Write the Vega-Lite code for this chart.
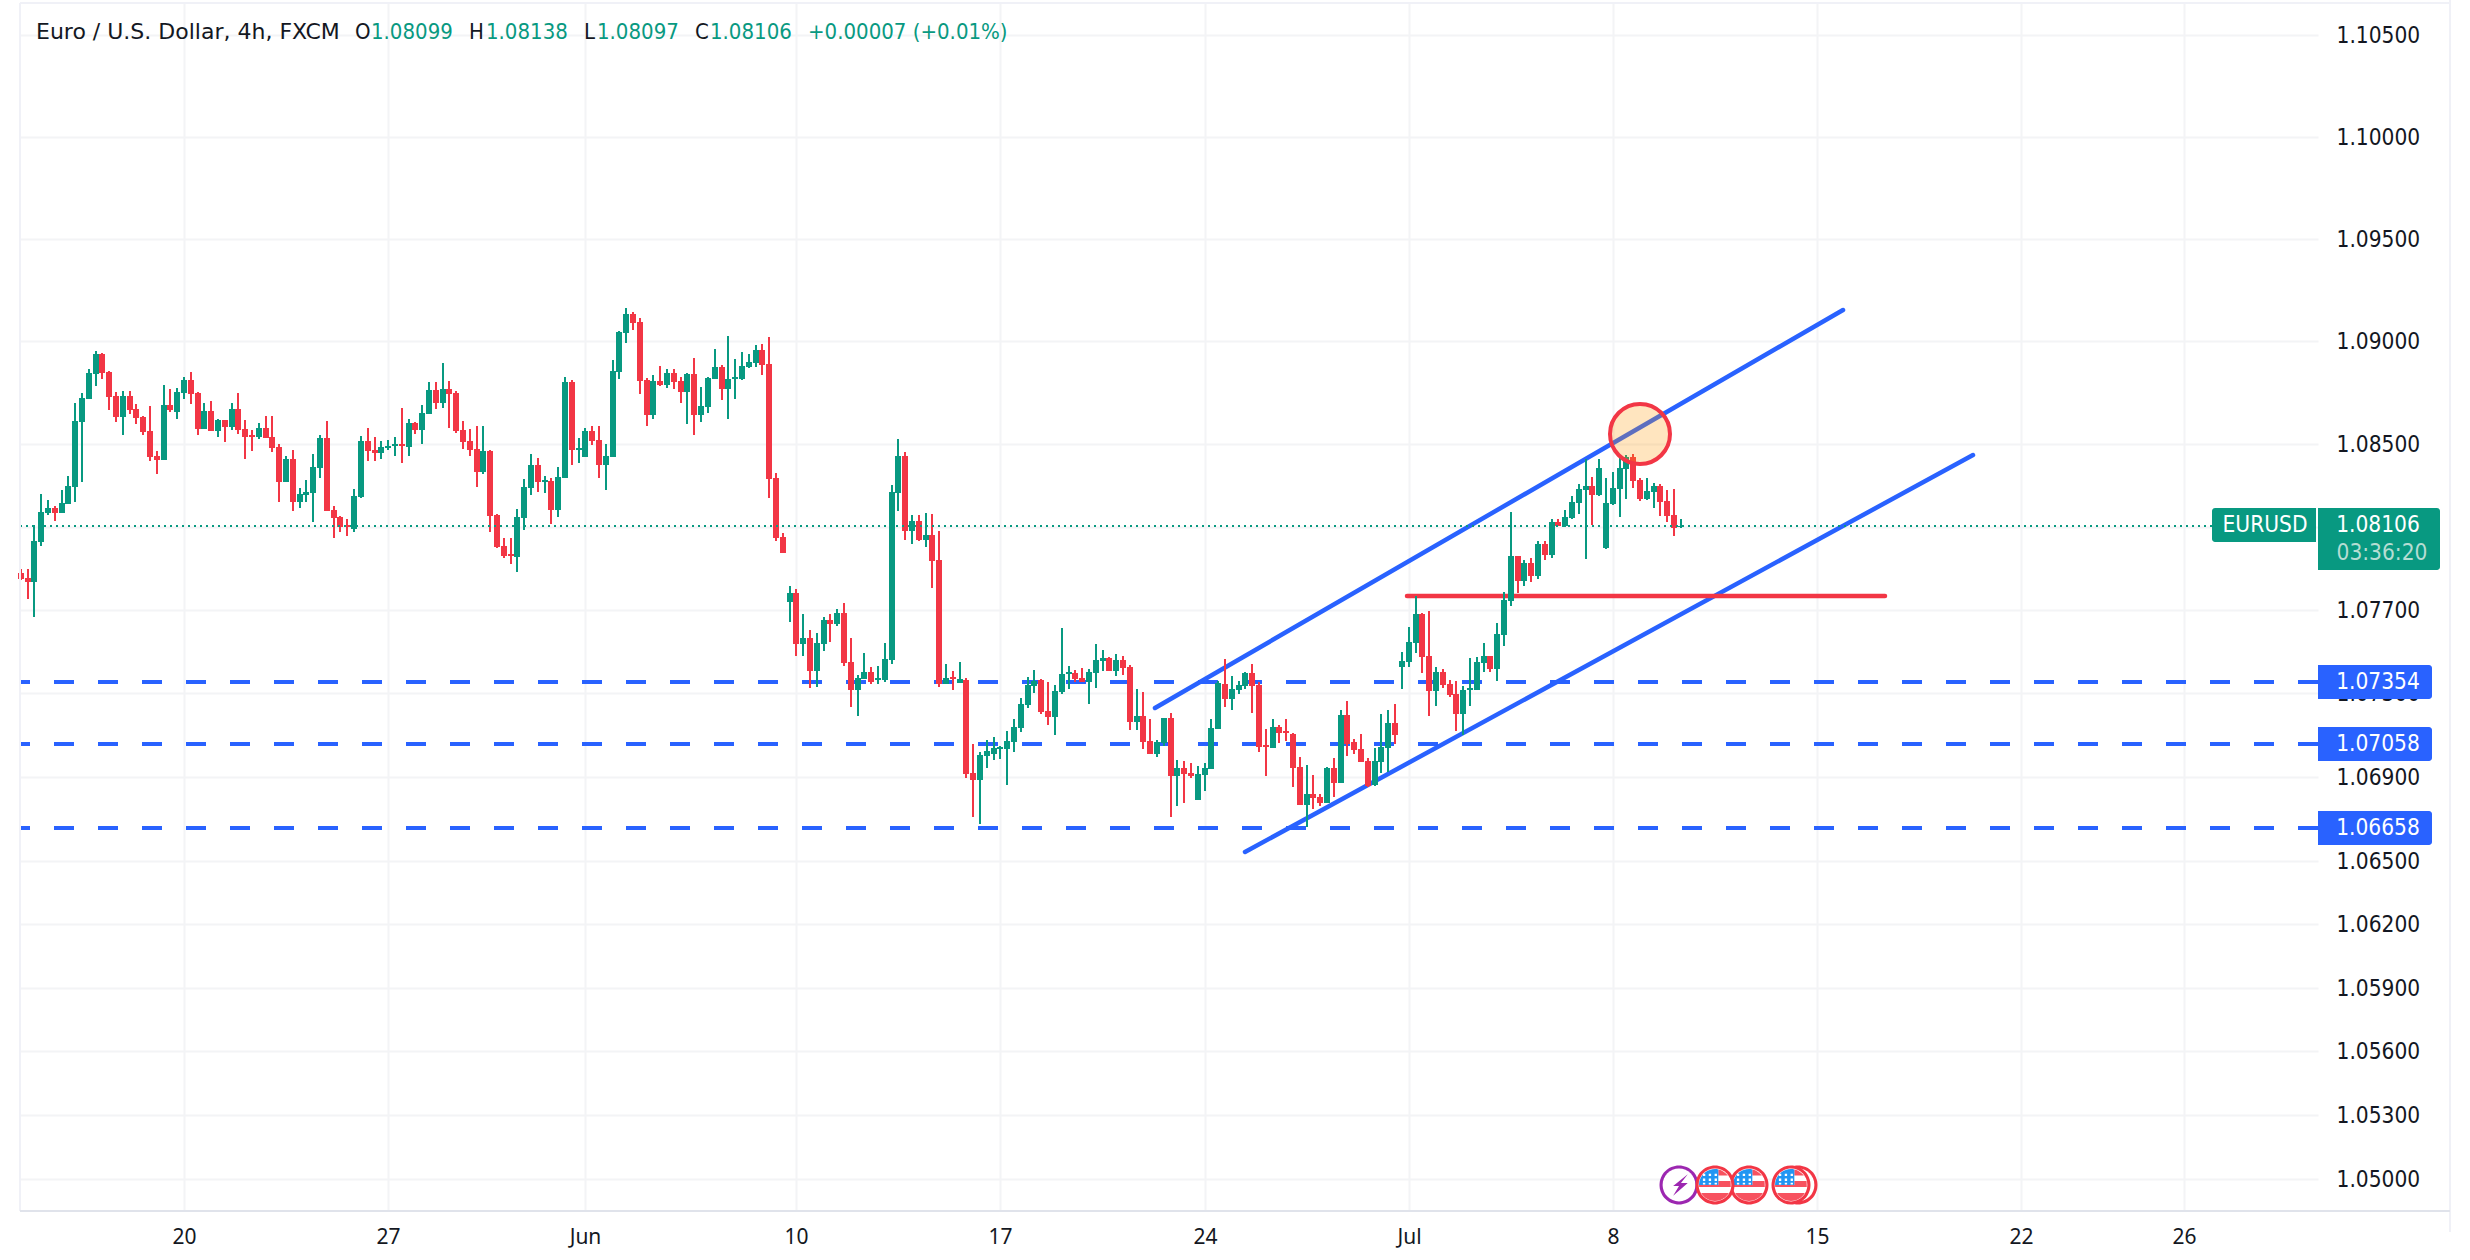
{"$schema":"https://vega.github.io/schema/vega-lite/v6.json","width":2298,"height":1208,"autosize":{"type":"none"},"padding":{"left":20,"top":3,"right":152,"bottom":49},"background":"#ffffff","config":{"view":{"stroke":null}},"resolve":{"scale":{"color":"independent","fill":"independent","stroke":"independent"}},
"datasets":{
"candles":[
{"i":0,"o":1.07878,"h":1.07897,"l":1.07844,"c":1.07849},{"i":1,"o":1.07854,"h":1.07897,"l":1.07753,"c":1.07835},{"i":2,"o":1.07835,"h":1.0811,"l":1.07666,"c":1.08033},{"i":3,"o":1.08028,"h":1.08259,"l":1.08008,"c":1.08172},{"i":4,"o":1.08168,"h":1.0823,"l":1.08158,"c":1.08192},{"i":5,"o":1.08192,"h":1.08201,"l":1.08129,"c":1.08168},{"i":6,"o":1.08168,"h":1.08278,"l":1.08168,"c":1.08216},{"i":7,"o":1.08211,"h":1.08346,"l":1.08211,"c":1.08298},{"i":8,"o":1.08293,"h":1.087,"l":1.08221,"c":1.08613},{"i":9,"o":1.08608,"h":1.08748,"l":1.08317,"c":1.08724},
{"i":10,"o":1.08719,"h":1.08866,"l":1.08719,"c":1.08847},{"i":11,"o":1.08842,"h":1.08954,"l":1.08782,"c":1.08939},{"i":12,"o":1.08939,"h":1.08944,"l":1.08818,"c":1.08847},{"i":13,"o":1.08852,"h":1.08857,"l":1.08666,"c":1.08729},{"i":14,"o":1.08734,"h":1.08753,"l":1.08608,"c":1.08632},{"i":15,"o":1.08632,"h":1.08758,"l":1.08545,"c":1.08734},{"i":16,"o":1.08734,"h":1.08758,"l":1.08647,"c":1.08666},{"i":17,"o":1.08671,"h":1.08695,"l":1.08598,"c":1.08627},{"i":18,"o":1.08632,"h":1.08637,"l":1.08545,"c":1.0856},{"i":19,"o":1.08565,"h":1.08685,"l":1.08418,"c":1.08439},
{"i":20,"o":1.08444,"h":1.08468,"l":1.08356,"c":1.08424},{"i":21,"o":1.08424,"h":1.08787,"l":1.08424,"c":1.0869},{"i":22,"o":1.0869,"h":1.08767,"l":1.08656,"c":1.08666},{"i":23,"o":1.08656,"h":1.08772,"l":1.08623,"c":1.08753},{"i":24,"o":1.08748,"h":1.08827,"l":1.08719,"c":1.08811},{"i":25,"o":1.08811,"h":1.08852,"l":1.08695,"c":1.08743},{"i":26,"o":1.08748,"h":1.08753,"l":1.08545,"c":1.08574},{"i":27,"o":1.08574,"h":1.087,"l":1.08574,"c":1.08661},{"i":28,"o":1.08661,"h":1.08709,"l":1.08565,"c":1.08565},{"i":29,"o":1.08565,"h":1.08623,"l":1.08536,"c":1.08618},
{"i":30,"o":1.08618,"h":1.08618,"l":1.08511,"c":1.08584},{"i":31,"o":1.08584,"h":1.087,"l":1.08569,"c":1.08671},{"i":32,"o":1.08671,"h":1.08748,"l":1.0855,"c":1.08569},{"i":33,"o":1.08574,"h":1.08618,"l":1.08429,"c":1.08536},{"i":34,"o":1.08545,"h":1.08569,"l":1.08468,"c":1.08536},{"i":35,"o":1.08536,"h":1.08603,"l":1.08526,"c":1.08579},{"i":36,"o":1.08579,"h":1.08637,"l":1.08531,"c":1.08531},{"i":37,"o":1.08536,"h":1.08637,"l":1.08463,"c":1.08482},{"i":38,"o":1.08487,"h":1.08502,"l":1.08221,"c":1.08317},{"i":39,"o":1.08317,"h":1.08444,"l":1.08317,"c":1.08429},
{"i":40,"o":1.08429,"h":1.08473,"l":1.08177,"c":1.08221},{"i":41,"o":1.08221,"h":1.08288,"l":1.08192,"c":1.08259},{"i":42,"o":1.08254,"h":1.08327,"l":1.08221,"c":1.08269},{"i":43,"o":1.08264,"h":1.08453,"l":1.08124,"c":1.08389},{"i":44,"o":1.08384,"h":1.08545,"l":1.08336,"c":1.08531},{"i":45,"o":1.08531,"h":1.08613,"l":1.08177,"c":1.08177},{"i":46,"o":1.08182,"h":1.08201,"l":1.08047,"c":1.08143},{"i":47,"o":1.08148,"h":1.08153,"l":1.08076,"c":1.081},{"i":48,"o":1.0811,"h":1.08139,"l":1.08057,"c":1.081},{"i":49,"o":1.0809,"h":1.08283,"l":1.08076,"c":1.08249},
{"i":50,"o":1.08245,"h":1.0854,"l":1.0824,"c":1.08516},{"i":51,"o":1.08516,"h":1.08579,"l":1.08418,"c":1.08468},{"i":52,"o":1.08473,"h":1.08536,"l":1.08418,"c":1.08458},{"i":53,"o":1.08458,"h":1.08516,"l":1.08429,"c":1.08487},{"i":54,"o":1.08482,"h":1.08521,"l":1.08473,"c":1.08492},{"i":55,"o":1.08492,"h":1.08536,"l":1.08444,"c":1.08502},{"i":56,"o":1.08502,"h":1.08676,"l":1.08409,"c":1.08492},{"i":57,"o":1.08487,"h":1.08623,"l":1.08444,"c":1.08603},{"i":58,"o":1.08603,"h":1.08608,"l":1.0855,"c":1.08569},{"i":59,"o":1.08569,"h":1.0869,"l":1.08502,"c":1.08651},
{"i":60,"o":1.08647,"h":1.08801,"l":1.08647,"c":1.08763},{"i":61,"o":1.08763,"h":1.08801,"l":1.08671,"c":1.087},{"i":62,"o":1.087,"h":1.08893,"l":1.08676,"c":1.08767},{"i":63,"o":1.08767,"h":1.08806,"l":1.08579,"c":1.08743},{"i":64,"o":1.08748,"h":1.08758,"l":1.08555,"c":1.08565},{"i":65,"o":1.08569,"h":1.08613,"l":1.08478,"c":1.08511},{"i":66,"o":1.08516,"h":1.08574,"l":1.08444,"c":1.08473},{"i":67,"o":1.08478,"h":1.08589,"l":1.08293,"c":1.08365},{"i":68,"o":1.08365,"h":1.08589,"l":1.08356,"c":1.08468},{"i":69,"o":1.08468,"h":1.08473,"l":1.08076,"c":1.08153},
{"i":70,"o":1.08158,"h":1.08163,"l":1.07999,"c":1.08004},{"i":71,"o":1.08008,"h":1.08047,"l":1.0795,"c":1.0796},{"i":72,"o":1.07969,"h":1.08047,"l":1.07921,"c":1.0796},{"i":73,"o":1.07955,"h":1.08187,"l":1.07883,"c":1.08148},{"i":74,"o":1.08143,"h":1.08331,"l":1.08086,"c":1.08293},{"i":75,"o":1.08288,"h":1.08453,"l":1.08254,"c":1.08399},{"i":76,"o":1.08399,"h":1.08434,"l":1.08269,"c":1.08317},{"i":77,"o":1.08317,"h":1.08346,"l":1.08264,"c":1.08327},{"i":78,"o":1.08322,"h":1.08336,"l":1.08115,"c":1.08182},{"i":79,"o":1.08182,"h":1.08389,"l":1.08148,"c":1.08341},
{"i":80,"o":1.08336,"h":1.08825,"l":1.08336,"c":1.08801},{"i":81,"o":1.08801,"h":1.08811,"l":1.08399,"c":1.08473},{"i":82,"o":1.08473,"h":1.08531,"l":1.08409,"c":1.08482},{"i":83,"o":1.08439,"h":1.08579,"l":1.08439,"c":1.08565},{"i":84,"o":1.08565,"h":1.08589,"l":1.08497,"c":1.08516},{"i":85,"o":1.08521,"h":1.08589,"l":1.08336,"c":1.08399},{"i":86,"o":1.08399,"h":1.08502,"l":1.08278,"c":1.08444},{"i":87,"o":1.08439,"h":1.0891,"l":1.08439,"c":1.08857},{"i":88,"o":1.08852,"h":1.0905,"l":1.08818,"c":1.09046},{"i":89,"o":1.09041,"h":1.09162,"l":1.08992,"c":1.09133},
{"i":90,"o":1.09133,"h":1.09143,"l":1.09055,"c":1.09089},{"i":91,"o":1.09094,"h":1.09113,"l":1.08743,"c":1.08806},{"i":92,"o":1.08811,"h":1.08821,"l":1.08589,"c":1.08642},{"i":93,"o":1.08642,"h":1.08835,"l":1.08623,"c":1.08806},{"i":94,"o":1.08806,"h":1.08881,"l":1.08782,"c":1.08787},{"i":95,"o":1.08787,"h":1.08866,"l":1.08772,"c":1.08845},{"i":96,"o":1.08845,"h":1.08866,"l":1.08767,"c":1.08801},{"i":97,"o":1.08806,"h":1.08825,"l":1.087,"c":1.08753},{"i":98,"o":1.08753,"h":1.08845,"l":1.08598,"c":1.0884},{"i":99,"o":1.0884,"h":1.0892,"l":1.08545,"c":1.08642},
{"i":100,"o":1.08642,"h":1.08777,"l":1.08608,"c":1.08685},{"i":101,"o":1.0868,"h":1.08825,"l":1.08651,"c":1.08821},{"i":102,"o":1.08816,"h":1.08963,"l":1.08816,"c":1.08876},{"i":103,"o":1.08876,"h":1.08886,"l":1.08714,"c":1.08767},{"i":104,"o":1.08767,"h":1.09026,"l":1.08623,"c":1.08816},{"i":105,"o":1.08816,"h":1.08915,"l":1.08719,"c":1.08825},{"i":106,"o":1.08816,"h":1.08949,"l":1.08811,"c":1.08881},{"i":107,"o":1.08876,"h":1.08939,"l":1.08871,"c":1.089},{"i":108,"o":1.08895,"h":1.08983,"l":1.08876,"c":1.08958},{"i":109,"o":1.08958,"h":1.08987,"l":1.08835,"c":1.08886},
{"i":110,"o":1.08891,"h":1.09021,"l":1.0824,"c":1.08331},{"i":111,"o":1.08336,"h":1.0836,"l":1.08033,"c":1.08047},{"i":112,"o":1.08052,"h":1.08071,"l":1.07974,"c":1.07974},{"i":113,"o":1.07738,"h":1.07815,"l":1.07642,"c":1.07782},{"i":114,"o":1.07782,"h":1.07801,"l":1.07479,"c":1.07537},{"i":115,"o":1.07537,"h":1.07681,"l":1.07479,"c":1.07566},{"i":116,"o":1.07566,"h":1.07604,"l":1.07327,"c":1.07408},{"i":117,"o":1.07408,"h":1.0759,"l":1.07331,"c":1.07542},{"i":118,"o":1.07537,"h":1.07666,"l":1.07503,"c":1.07652},{"i":119,"o":1.07652,"h":1.07681,"l":1.07546,"c":1.07633},
{"i":120,"o":1.07633,"h":1.07705,"l":1.07623,"c":1.07686},{"i":121,"o":1.07686,"h":1.07734,"l":1.07431,"c":1.07446},{"i":122,"o":1.0745,"h":1.07566,"l":1.07235,"c":1.07316},{"i":123,"o":1.07316,"h":1.07388,"l":1.07191,"c":1.07374},{"i":124,"o":1.07369,"h":1.07494,"l":1.07369,"c":1.07402},{"i":125,"o":1.07402,"h":1.07426,"l":1.07345,"c":1.07354},{"i":126,"o":1.07364,"h":1.07431,"l":1.07345,"c":1.07374},{"i":127,"o":1.07364,"h":1.07542,"l":1.07354,"c":1.07465},{"i":128,"o":1.0746,"h":1.08303,"l":1.07441,"c":1.08269},{"i":129,"o":1.08264,"h":1.08526,"l":1.08177,"c":1.08444},
{"i":130,"o":1.08444,"h":1.08463,"l":1.08037,"c":1.08081},{"i":131,"o":1.08081,"h":1.08158,"l":1.08018,"c":1.08129},{"i":132,"o":1.08129,"h":1.08158,"l":1.08033,"c":1.08037},{"i":133,"o":1.08037,"h":1.08168,"l":1.08004,"c":1.08062},{"i":134,"o":1.08062,"h":1.08163,"l":1.07806,"c":1.07936},{"i":135,"o":1.07941,"h":1.08081,"l":1.07331,"c":1.07345},{"i":136,"o":1.07345,"h":1.07441,"l":1.07345,"c":1.07374},{"i":137,"o":1.07379,"h":1.07408,"l":1.07316,"c":1.07369},{"i":138,"o":1.0735,"h":1.0745,"l":1.0735,"c":1.07369},{"i":139,"o":1.07364,"h":1.07374,"l":1.06894,"c":1.06913},
{"i":140,"o":1.06918,"h":1.07057,"l":1.06711,"c":1.06884},{"i":141,"o":1.06885,"h":1.0702,"l":1.06676,"c":1.07005},{"i":142,"o":1.07,"h":1.07077,"l":1.06943,"c":1.07024},{"i":143,"o":1.0701,"h":1.07091,"l":1.06981,"c":1.07039},{"i":144,"o":1.07034,"h":1.07048,"l":1.06986,"c":1.07043},{"i":145,"o":1.07034,"h":1.0712,"l":1.06862,"c":1.07072},{"i":146,"o":1.07067,"h":1.07177,"l":1.0702,"c":1.07139},{"i":147,"o":1.07134,"h":1.07278,"l":1.07115,"c":1.07249},{"i":148,"o":1.07244,"h":1.07379,"l":1.0723,"c":1.0734},{"i":149,"o":1.07335,"h":1.07412,"l":1.07302,"c":1.0736},
{"i":150,"o":1.07364,"h":1.07369,"l":1.07201,"c":1.07211},{"i":151,"o":1.07216,"h":1.07354,"l":1.07149,"c":1.07187},{"i":152,"o":1.07187,"h":1.0734,"l":1.07101,"c":1.07311},{"i":153,"o":1.07307,"h":1.07614,"l":1.07297,"c":1.07393},{"i":154,"o":1.07393,"h":1.07431,"l":1.07321,"c":1.07402},{"i":155,"o":1.07398,"h":1.07412,"l":1.07354,"c":1.07369},{"i":156,"o":1.07374,"h":1.07422,"l":1.07354,"c":1.07354},{"i":157,"o":1.07354,"h":1.07417,"l":1.07249,"c":1.07402},{"i":158,"o":1.07398,"h":1.07537,"l":1.07326,"c":1.0746},{"i":159,"o":1.07455,"h":1.07508,"l":1.07407,"c":1.0747},
{"i":160,"o":1.0747,"h":1.07475,"l":1.07407,"c":1.07407},{"i":161,"o":1.07407,"h":1.07489,"l":1.07383,"c":1.0746},{"i":162,"o":1.0746,"h":1.07479,"l":1.07388,"c":1.07422},{"i":163,"o":1.07426,"h":1.07436,"l":1.07125,"c":1.07163},{"i":164,"o":1.07163,"h":1.07321,"l":1.07125,"c":1.07191},{"i":165,"o":1.07191,"h":1.07307,"l":1.07034,"c":1.07067},{"i":166,"o":1.07072,"h":1.07177,"l":1.0701,"c":1.0701},{"i":167,"o":1.0701,"h":1.07077,"l":1.06995,"c":1.07067},{"i":168,"o":1.07062,"h":1.07182,"l":1.07048,"c":1.07182},{"i":169,"o":1.07182,"h":1.07206,"l":1.06708,"c":1.06904},
{"i":170,"o":1.06904,"h":1.06981,"l":1.06761,"c":1.06943},{"i":171,"o":1.06943,"h":1.06976,"l":1.06775,"c":1.06914},{"i":172,"o":1.06919,"h":1.06967,"l":1.06895,"c":1.06904},{"i":173,"o":1.06789,"h":1.06952,"l":1.06789,"c":1.06914},{"i":174,"o":1.06909,"h":1.06967,"l":1.06833,"c":1.06943},{"i":175,"o":1.06938,"h":1.07177,"l":1.06938,"c":1.07134},{"i":176,"o":1.07129,"h":1.07359,"l":1.07129,"c":1.0735},{"i":177,"o":1.07345,"h":1.07465,"l":1.07235,"c":1.07273},{"i":178,"o":1.07273,"h":1.07383,"l":1.0722,"c":1.07321},{"i":179,"o":1.07316,"h":1.07359,"l":1.07297,"c":1.0734},
{"i":180,"o":1.07335,"h":1.07402,"l":1.07321,"c":1.07398},{"i":181,"o":1.07398,"h":1.07441,"l":1.07206,"c":1.07335},{"i":182,"o":1.0734,"h":1.07354,"l":1.0702,"c":1.07043},{"i":183,"o":1.07053,"h":1.07129,"l":1.06904,"c":1.07043},{"i":184,"o":1.07038,"h":1.07177,"l":1.07038,"c":1.07139},{"i":185,"o":1.07139,"h":1.07149,"l":1.07062,"c":1.0711},{"i":186,"o":1.0712,"h":1.07177,"l":1.07072,"c":1.0711},{"i":187,"o":1.07105,"h":1.0711,"l":1.06852,"c":1.06943},{"i":188,"o":1.06947,"h":1.06995,"l":1.06765,"c":1.06765},{"i":189,"o":1.06765,"h":1.06957,"l":1.0666,"c":1.06818},
{"i":190,"o":1.06818,"h":1.06909,"l":1.06746,"c":1.06799},{"i":191,"o":1.06804,"h":1.06818,"l":1.06761,"c":1.06775},{"i":192,"o":1.06775,"h":1.06947,"l":1.06775,"c":1.06943},{"i":193,"o":1.06943,"h":1.06991,"l":1.06804,"c":1.06871},{"i":194,"o":1.06871,"h":1.0722,"l":1.06871,"c":1.07196},{"i":195,"o":1.07196,"h":1.07263,"l":1.07,"c":1.07058},{"i":196,"o":1.07067,"h":1.07081,"l":1.0701,"c":1.07029},{"i":197,"o":1.07034,"h":1.07105,"l":1.06971,"c":1.06971},{"i":198,"o":1.06976,"h":1.06991,"l":1.06852,"c":1.06857},{"i":199,"o":1.06862,"h":1.07038,"l":1.06857,"c":1.06976},
{"i":200,"o":1.06971,"h":1.07201,"l":1.06919,"c":1.07043},{"i":201,"o":1.07038,"h":1.0722,"l":1.06924,"c":1.07158},{"i":202,"o":1.07158,"h":1.07249,"l":1.07058,"c":1.07101},{"i":203,"o":1.07426,"h":1.07498,"l":1.07321,"c":1.07455},{"i":204,"o":1.0745,"h":1.07618,"l":1.07426,"c":1.07546},{"i":205,"o":1.07542,"h":1.07767,"l":1.07494,"c":1.07681},{"i":206,"o":1.07681,"h":1.07686,"l":1.07398,"c":1.07475},{"i":207,"o":1.07479,"h":1.07695,"l":1.07191,"c":1.07311},{"i":208,"o":1.07311,"h":1.07426,"l":1.07239,"c":1.07402},{"i":209,"o":1.07402,"h":1.07417,"l":1.07326,"c":1.0734},
{"i":210,"o":1.07345,"h":1.07364,"l":1.07283,"c":1.07292},{"i":211,"o":1.07297,"h":1.07359,"l":1.0712,"c":1.07201},{"i":212,"o":1.07201,"h":1.07335,"l":1.07101,"c":1.07316},{"i":213,"o":1.07316,"h":1.0747,"l":1.07239,"c":1.07326},{"i":214,"o":1.07316,"h":1.07475,"l":1.07316,"c":1.0745},{"i":215,"o":1.07446,"h":1.07542,"l":1.07402,"c":1.07479},{"i":216,"o":1.07479,"h":1.07479,"l":1.07402,"c":1.07417},{"i":217,"o":1.07417,"h":1.07638,"l":1.07359,"c":1.07585},{"i":218,"o":1.0758,"h":1.07787,"l":1.07527,"c":1.07748},{"i":219,"o":1.07743,"h":1.08172,"l":1.07719,"c":1.0796},
{"i":220,"o":1.0796,"h":1.0796,"l":1.07782,"c":1.07839},{"i":221,"o":1.07839,"h":1.07941,"l":1.07815,"c":1.07926},{"i":222,"o":1.07926,"h":1.0795,"l":1.07835,"c":1.07864},{"i":223,"o":1.07864,"h":1.08033,"l":1.07849,"c":1.08018},{"i":224,"o":1.08018,"h":1.08033,"l":1.07941,"c":1.07965},{"i":225,"o":1.07965,"h":1.08139,"l":1.0795,"c":1.08124},{"i":226,"o":1.08124,"h":1.08139,"l":1.08105,"c":1.08105},{"i":227,"o":1.08105,"h":1.08182,"l":1.081,"c":1.08148},{"i":228,"o":1.08143,"h":1.08249,"l":1.08139,"c":1.08221},{"i":229,"o":1.08216,"h":1.08307,"l":1.08163,"c":1.08283},
{"i":230,"o":1.08278,"h":1.08429,"l":1.07945,"c":1.08298},{"i":231,"o":1.08298,"h":1.08341,"l":1.0811,"c":1.08254},{"i":232,"o":1.08254,"h":1.08429,"l":1.08249,"c":1.08384},{"i":233,"o":1.07999,"h":1.08336,"l":1.07994,"c":1.08216},{"i":234,"o":1.08211,"h":1.08365,"l":1.08206,"c":1.08288},{"i":235,"o":1.08283,"h":1.08434,"l":1.08148,"c":1.08384},{"i":236,"o":1.0838,"h":1.08449,"l":1.08235,"c":1.08439},{"i":237,"o":1.08439,"h":1.08453,"l":1.08288,"c":1.08322},{"i":238,"o":1.08327,"h":1.08336,"l":1.08225,"c":1.08235},{"i":239,"o":1.08235,"h":1.08336,"l":1.0823,"c":1.08274},
{"i":240,"o":1.08269,"h":1.08312,"l":1.08192,"c":1.08298},{"i":241,"o":1.08298,"h":1.08307,"l":1.08153,"c":1.08221},{"i":242,"o":1.08225,"h":1.08278,"l":1.08124,"c":1.08153},{"i":243,"o":1.08158,"h":1.08283,"l":1.08057,"c":1.08095},{"i":244,"o":1.08099,"h":1.08138,"l":1.08097,"c":1.08106}
],
"levels":[{"p":1.07354},{"p":1.07058},{"p":1.06658}],
"lines":[{"line":"upper","i":166.7,"p":1.0723},{"line":"upper","i":267.8,"p":1.09152},{"line":"lower","i":179.9,"p":1.06543},{"line":"lower","i":286.9,"p":1.08448},{"line":"resistance","i":203.7,"p":1.07769},{"line":"resistance","i":274,"p":1.07769}],
"borders":[{"i":-0.103,"i2":-0.103,"p":1.04849,"p2":1.10658,"b":"side"},{"i":357.05,"i2":357.05,"p":1.0475,"p2":1.1075,"b":"side"},{"i":-0.103,"i2":357.05,"p":1.1066,"p2":1.1066,"b":"side"},{"i":-0.103,"i2":357.05,"p":1.04849,"p2":1.04849,"b":"axis"}],
"tags":[{"t":"1.07354","i":337.64,"i2":354.4,"p":1.07436,"p2":1.07274,"k":"level"},{"t":"1.07058","i":337.64,"i2":354.4,"p":1.07139,"p2":1.06976,"k":"level"},{"t":"1.06658","i":337.64,"i2":354.4,"p":1.06738,"p2":1.06576,"k":"level"},{"t":"1.08106","i":337.64,"i2":355.6,"p":1.08192,"p2":1.07892,"k":"price"}],
"symbolTag":[{"i":322.06,"i2":337.35,"p":1.08192,"p2":1.08028}],
"tagText":[{"t":"1.07354","i":346.5,"p":1.07354,"k":"main"},{"t":"1.07058","i":346.5,"p":1.07058,"k":"main"},{"t":"1.06658","i":346.5,"p":1.06658,"k":"main"},{"t":"1.08106","i":346.5,"p":1.08109,"k":"main"},{"t":"EURUSD","i":329.9,"p":1.08109,"k":"main"},{"t":"03:36:20","i":347.1,"p":1.07974,"k":"dim"}],
"headerName":[{"t":"Euro / U.S. Dollar, 4h, FXCM","i":2.32,"p":1.10515}],
"header":[{"t":"O","i":49.1,"p":1.10515,"k":"dark"},{"t":"1.08099","i":51.5,"p":1.10515,"k":"green"},{"t":"H","i":65.9,"p":1.10515,"k":"dark"},{"t":"1.08138","i":68.4,"p":1.10515,"k":"green"},{"t":"L","i":82.8,"p":1.10515,"k":"dark"},{"t":"1.08097","i":84.7,"p":1.10515,"k":"green"},{"t":"C","i":99.1,"p":1.10515,"k":"dark"},{"t":"1.08106","i":101.3,"p":1.10515,"k":"green"},{"t":"+0.00007 (+0.01%)","i":115.7,"p":1.10515,"k":"green"}],
"icons":[{"i":243.7,"p":1.04971,"part":"purple"},{"i":243.7,"p":1.04971,"part":"white"},{"i":243.7,"p":1.04971,"part":"bolt"},
{"i":261.2,"p":1.04971,"part":"ring"},{"i":261.2,"p":1.04971,"part":"white"},
{"i":260.2,"p":1.04971,"part":"ring"},{"i":260.2,"p":1.04971,"part":"white"},{"i":260.2,"p":1.04971,"part":"stripes"},{"i":260.2,"p":1.04971,"part":"canton"},{"i":260.2,"p":1.04971,"part":"stars"},
{"i":254,"p":1.04971,"part":"ring"},{"i":254,"p":1.04971,"part":"white"},{"i":254,"p":1.04971,"part":"stripes"},{"i":254,"p":1.04971,"part":"canton"},{"i":254,"p":1.04971,"part":"stars"},
{"i":249,"p":1.04971,"part":"ring"},{"i":249,"p":1.04971,"part":"white"},{"i":249,"p":1.04971,"part":"stripes"},{"i":249,"p":1.04971,"part":"canton"},{"i":249,"p":1.04971,"part":"stars"}]
},
"layer":[
{"data":{"name":"candles"},"mark":{"type":"rule","strokeWidth":2,"opacity":0},"encoding":{"x":{"field":"i","type":"quantitative","title":null,"scale":{"domain":[-0.103,337.64],"nice":false,"zero":false,"round":true,"padding":0},"axis":{"values":[24,54,83,114,144,174,204,234,264,294,318],"labelExpr":"{'24':'20','54':'27','83':'Jun','114':'10','144':'17','174':'24','204':'Jul','234':'8','264':'15','294':'22','318':'26'}[datum.value]","grid":true,"gridColor":"#f3f4f6","gridWidth":2,"ticks":false,"domain":false,"labelFont":"Noto Sans","labelFontSize":21,"labelColor":"#131722","labelPadding":15,"labelOverlap":false,"labelFlush":false,"labelBound":false,"title":null}},"y":{"field":"h","type":"quantitative","title":null,"scale":{"type":"log","domain":[1.04849,1.10658],"nice":false,"round":true},"axis":{"orient":"right","values":[1.05,1.053,1.056,1.059,1.062,1.065,1.069,1.073,1.077,1.081,1.085,1.09,1.095,1.1,1.105],"labelExpr":"datum.value==1.081?'':format(datum.value,'.5f')","grid":true,"gridColor":"#f3f4f6","gridWidth":2,"ticks":false,"domain":false,"labelFont":"DejaVu Sans Condensed","labelFontSize":22.5,"labelColor":"#131722","labelPadding":18,"labelOverlap":false,"labelFlush":false,"labelBound":false,"title":null}}}},
{"data":{"name":"levels"},"mark":{"type":"rule","color":"#2962ff","strokeWidth":4,"strokeDash":[20,24]},"encoding":{"y":{"field":"p","type":"quantitative","title":null,"scale":{"type":"log","domain":[1.04849,1.10658],"nice":false,"round":true}}}},
{"data":{"name":"lines"},"mark":{"type":"line","strokeWidth":4.5,"strokeCap":"round"},"encoding":{"x":{"field":"i","type":"quantitative","title":null,"scale":{"domain":[-0.103,337.64],"nice":false,"zero":false,"round":true,"padding":0}},"y":{"field":"p","type":"quantitative","title":null,"scale":{"type":"log","domain":[1.04849,1.10658],"nice":false,"round":true}},"detail":{"field":"line"},"color":{"field":"line","type":"nominal","legend":null,"scale":{"domain":["upper","lower","resistance"],"range":["#2962ff","#2962ff","#f23645"]}}}},
{"data":{"name":"candles"},"mark":{"type":"rule","strokeWidth":2},"encoding":{"x":{"field":"i","type":"quantitative","title":null,"scale":{"domain":[-0.103,337.64],"nice":false,"zero":false,"round":true,"padding":0}},"y":{"field":"h","type":"quantitative","title":null,"scale":{"type":"log","domain":[1.04849,1.10658],"nice":false,"round":true}},"y2":{"field":"l"},"color":{"condition":{"test":"datum.c>=datum.o","value":"#089981"},"value":"#f23645"}}},
{"data":{"name":"candles"},"mark":{"type":"bar","size":6},"encoding":{"x":{"field":"i","type":"quantitative","title":null,"scale":{"domain":[-0.103,337.64],"nice":false,"zero":false,"round":true,"padding":0}},"y":{"field":"o","type":"quantitative","title":null,"scale":{"type":"log","domain":[1.04849,1.10658],"nice":false,"round":true}},"y2":{"field":"c"},"color":{"condition":{"test":"datum.c>=datum.o","value":"#089981"},"value":"#f23645"}}},
{"data":{"values":[{"i":238,"p":1.0855}]},"mark":{"type":"point","shape":"circle","filled":true,"size":3600,"fill":"#ff9800","fillOpacity":0.25,"stroke":"#f23645","strokeOpacity":1,"strokeWidth":4,"opacity":1},"encoding":{"x":{"field":"i","type":"quantitative","title":null,"scale":{"domain":[-0.103,337.64],"nice":false,"zero":false,"round":true,"padding":0}},"y":{"field":"p","type":"quantitative","title":null,"scale":{"type":"log","domain":[1.04849,1.10658],"nice":false,"round":true}}}},
{"data":{"values":[{"i":-0.103,"i2":322.06,"p":1.08106}]},"mark":{"type":"rule","color":"#089981","strokeWidth":2,"strokeDash":[2,4]},"encoding":{"x":{"field":"i","type":"quantitative","title":null,"scale":{"domain":[-0.103,337.64],"nice":false,"zero":false,"round":true,"padding":0}},"x2":{"field":"i2"},"y":{"field":"p","type":"quantitative","title":null,"scale":{"type":"log","domain":[1.04849,1.10658],"nice":false,"round":true}}}},
{"data":{"name":"borders"},"mark":{"type":"rule","strokeWidth":2},"encoding":{"x":{"field":"i","type":"quantitative","title":null,"scale":{"domain":[-0.103,337.64],"nice":false,"zero":false,"round":true,"padding":0}},"x2":{"field":"i2"},"y":{"field":"p","type":"quantitative","title":null,"scale":{"type":"log","domain":[1.04849,1.10658],"nice":false,"round":true}},"y2":{"field":"p2"},"color":{"field":"b","type":"nominal","legend":null,"scale":{"domain":["side","axis"],"range":["#f0f1f7","#e0e3eb"]}}}},
{"data":{"name":"tags"},"mark":{"type":"rect","cornerRadiusTopRight":3,"cornerRadiusBottomRight":3},"encoding":{"x":{"field":"i","type":"quantitative","title":null,"scale":{"domain":[-0.103,337.64],"nice":false,"zero":false,"round":true,"padding":0}},"x2":{"field":"i2"},"y":{"field":"p","type":"quantitative","title":null,"scale":{"type":"log","domain":[1.04849,1.10658],"nice":false,"round":true}},"y2":{"field":"p2"},"color":{"field":"k","type":"nominal","legend":null,"scale":{"domain":["level","price"],"range":["#2962ff","#089981"]}}}},
{"data":{"name":"symbolTag"},"mark":{"type":"rect","color":"#089981","cornerRadiusTopLeft":3,"cornerRadiusBottomLeft":3},"encoding":{"x":{"field":"i","type":"quantitative","title":null,"scale":{"domain":[-0.103,337.64],"nice":false,"zero":false,"round":true,"padding":0}},"x2":{"field":"i2"},"y":{"field":"p","type":"quantitative","title":null,"scale":{"type":"log","domain":[1.04849,1.10658],"nice":false,"round":true}},"y2":{"field":"p2"}}},
{"data":{"name":"tagText"},"mark":{"type":"text","align":"center","baseline":"middle","font":"DejaVu Sans Condensed","fontSize":22.5},"encoding":{"x":{"field":"i","type":"quantitative","title":null,"scale":{"domain":[-0.103,337.64],"nice":false,"zero":false,"round":true,"padding":0}},"y":{"field":"p","type":"quantitative","title":null,"scale":{"type":"log","domain":[1.04849,1.10658],"nice":false,"round":true}},"text":{"field":"t"},"color":{"field":"k","type":"nominal","legend":null,"scale":{"domain":["main","dim"],"range":["#ffffff","#b5ddd3"]}}}},
{"data":{"name":"headerName"},"mark":{"type":"text","align":"left","baseline":"middle","font":"DejaVu Sans","fontSize":22,"color":"#131722"},"encoding":{"x":{"field":"i","type":"quantitative","title":null,"scale":{"domain":[-0.103,337.64],"nice":false,"zero":false,"round":true,"padding":0}},"y":{"field":"p","type":"quantitative","title":null,"scale":{"type":"log","domain":[1.04849,1.10658],"nice":false,"round":true}},"text":{"field":"t"}}},
{"data":{"name":"header"},"mark":{"type":"text","align":"left","baseline":"middle","font":"DejaVu Sans Condensed","fontSize":22},"encoding":{"x":{"field":"i","type":"quantitative","title":null,"scale":{"domain":[-0.103,337.64],"nice":false,"zero":false,"round":true,"padding":0}},"y":{"field":"p","type":"quantitative","title":null,"scale":{"type":"log","domain":[1.04849,1.10658],"nice":false,"round":true}},"text":{"field":"t"},"color":{"field":"k","type":"nominal","legend":null,"scale":{"domain":["dark","green"],"range":["#131722","#089981"]}}}},
{"data":{"name":"icons"},"mark":{"type":"point","filled":true,"size":1521,"opacity":1,"strokeWidth":0},"encoding":{"x":{"field":"i","type":"quantitative","title":null,"scale":{"domain":[-0.103,337.64],"nice":false,"zero":false,"round":true,"padding":0}},"y":{"field":"p","type":"quantitative","title":null,"scale":{"type":"log","domain":[1.04849,1.10658],"nice":false,"round":true}},"shape":{"field":"part","type":"nominal","legend":null,"scale":{"domain":["purple","ring","white","stripes","canton","stars","bolt"],"range":["M-1,0A1,1 0 1 1 1,0A1,1 0 1 1 -1,0Z","M-1,0A1,1 0 1 1 1,0A1,1 0 1 1 -1,0Z","M-.84,0A.84,.84 0 1 1 .84,0A.84,.84 0 1 1 -.84,0Z","M.17,-.8L.17,-.49L.66,-.49A.82,.82 0 0 0 .17,-.8ZM.17,-.2L.8,-.2L.81,.1L-.81,.1L-.82,0L.17,0ZM-.71,.41L.71,.41A.82,.82 0 0 1 -.71,.41Z","M-.82,0L.17,0L.17,-.8A.82,.82 0 0 0 -.82,0Z","M-.62,-.58h.12v.12h-.12zM-.32,-.58h.12v.12h-.12zM-.02,-.58h.12v.12h-.12zM-.62,-.33h.12v.12h-.12zM-.32,-.33h.12v.12h-.12zM-.02,-.33h.12v.12h-.12zM-.62,-.12h.12v.1h-.12zM-.32,-.12h.12v.1h-.12zM-.02,-.12h.12v.1h-.12z","M.45,-.55L-.3,.05L0,.05L-.3,.55L.45,-.1L.1,-.1Z"]}},"fill":{"field":"part","type":"nominal","legend":null,"scale":{"domain":["purple","ring","white","stripes","canton","stars","bolt"],"range":["#9c27b0","#f23645","#ffffff","#f7525f","#2196f3","#ffffff","#9c27b0"]}}}}
]}
